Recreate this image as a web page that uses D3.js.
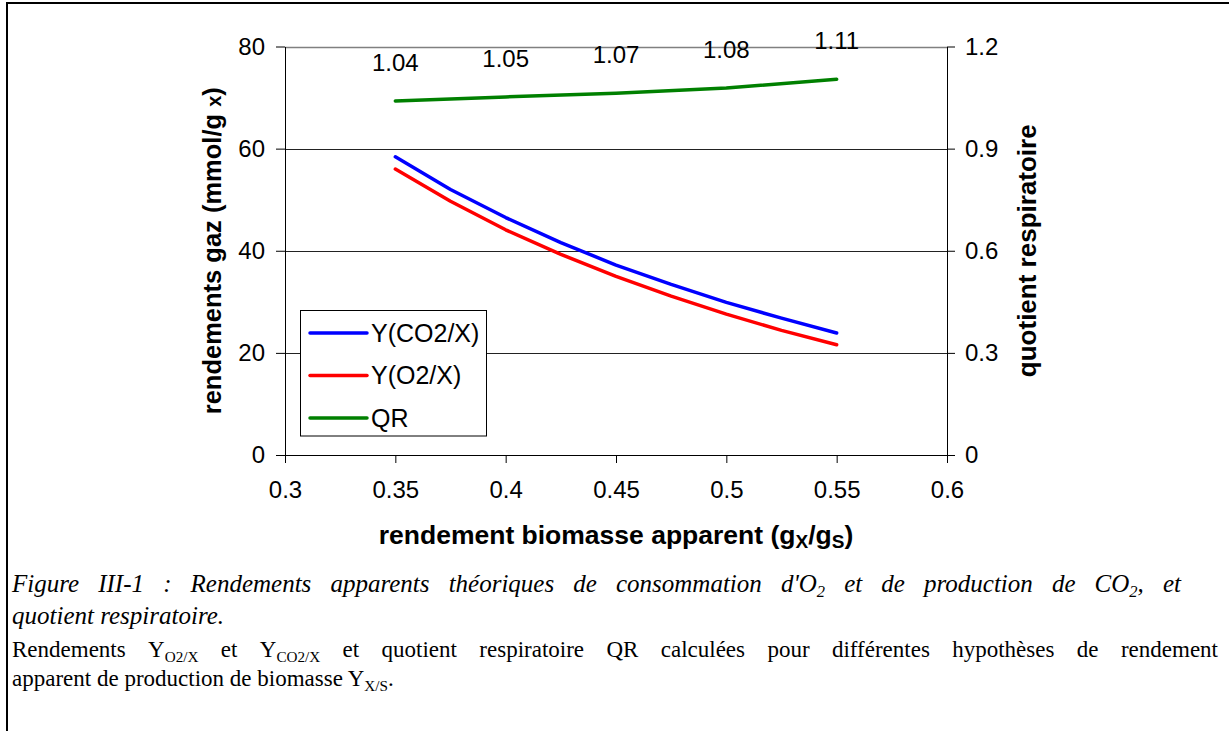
<!DOCTYPE html>
<html>
<head>
<meta charset="utf-8">
<script src="https://cdn.jsdelivr.net/npm/d3@7"></script>
<style>
  body { margin: 0; background: #fff; }
  svg { display: block; }
</style>
</head>
<body>
<script>
// values
const yieldX = [0.35, 0.375, 0.4, 0.425, 0.45, 0.475, 0.5, 0.525, 0.55];
const yCO2 = [58.4, 52.0, 46.5, 41.6, 37.2, 33.4, 29.9, 26.8, 23.9];
const yO2 = [56.0, 49.7, 44.1, 39.3, 35.0, 31.1, 27.6, 24.4, 21.6];
const qrX = [0.35, 0.4, 0.45, 0.5, 0.55];
const qrVals = [1.04, 1.052, 1.063, 1.078, 1.104];
const qrLabels = ['1.04', '1.05', '1.07', '1.08', '1.11'];
const xTicks = [0.3, 0.35, 0.4, 0.45, 0.5, 0.55, 0.6];
const leftTicks = [0, 20, 40, 60, 80];
const rightTicks = [0, 0.3, 0.6, 0.9, 1.2];
const seriesNames = ['Y(CO2/X)', 'Y(O2/X)', 'QR'];
const seriesColors = ['#0000ff', '#ff0000', '#008000'];

const W = 1229, H = 731;
const sans = 'Liberation Sans, Arial, sans-serif',
  serif = 'Liberation Serif, Times New Roman, serif',
  tickFont = 24,
  legFont = 25,
  titleFont = 26,
  capFont = 23,
  capItalicFont = 25;

const svg = d3.select('body').append('svg').attr('width', W).attr('height', H);

// outer frame (top + left only)
svg.append('line').attr('x1', 6).attr('x2', W).attr('y1', 3).attr('y2', 3)
  .attr('stroke', '#000').attr('stroke-width', 2);
svg.append('line').attr('x1', 7).attr('x2', 7).attr('y1', 2).attr('y2', H)
  .attr('stroke', '#000').attr('stroke-width', 2);

const x = d3.scaleLinear().domain([0.3, 0.6]).range([285, 947]),
  yL = d3.scaleLinear().domain([0, 80]).range([455, 46.5]),
  yR = d3.scaleLinear().domain([0, 1.2]).range([455, 46.5]);

// grid
svg.append('g').selectAll('line').data([20, 40, 60]).join('line')
  .attr('x1', x(0.3)).attr('x2', x(0.6))
  .attr('y1', d => Math.round(yL(d)) + 0.5).attr('y2', d => Math.round(yL(d)) + 0.5)
  .attr('stroke', '#222').attr('stroke-width', 1);
svg.append('line')
  .attr('x1', x(0.3)).attr('x2', x(0.6))
  .attr('y1', Math.round(yL(80)) + 0.5).attr('y2', Math.round(yL(80)) + 0.5)
  .attr('stroke', '#808080').attr('stroke-width', 1.5);

const styleAxis = g => {
  g.select('.domain').attr('stroke', '#000');
  g.selectAll('.tick line').attr('stroke', '#000');
  g.selectAll('.tick text').attr('fill', '#000')
    .style('font-family', sans).style('font-size', tickFont + 'px');
};

svg.append('g').attr('transform', 'translate(0,455)')
  .call(d3.axisBottom(x).tickValues(xTicks).tickSize(8).tickSizeOuter(0)
    .tickPadding(18).tickFormat(d => String(+d.toFixed(2))))
  .call(styleAxis);

svg.append('g').attr('transform', 'translate(285,0)')
  .call(d3.axisLeft(yL).tickValues(leftTicks).tickSize(9).tickSizeOuter(0)
    .tickPadding(11))
  .call(styleAxis);

svg.append('g').attr('transform', 'translate(947,0)')
  .call(d3.axisRight(yR).tickValues(rightTicks).tickSize(8).tickSizeOuter(0)
    .tickPadding(10).tickFormat(d => String(+d.toFixed(1))))
  .call(styleAxis);

// series
const lineL = d3.line().x(d => x(d[0])).y(d => yL(d[1]));
const lineR = d3.line().x(d => x(d[0])).y(d => yR(d[1]));

const drawPath = (pts, gen, color) =>
  svg.append('path').datum(pts).attr('d', gen)
    .attr('fill', 'none').attr('stroke', color).attr('stroke-width', 3.5)
    .attr('stroke-linecap', 'round').attr('stroke-linejoin', 'round');

drawPath(d3.zip(yieldX, yCO2), lineL, seriesColors[0]);
drawPath(d3.zip(yieldX, yO2), lineL, seriesColors[1]);
drawPath(d3.zip(qrX, qrVals), lineR, seriesColors[2]);

// QR data labels
svg.append('g').selectAll('text').data(d3.zip(qrX, qrVals, qrLabels)).join('text')
  .attr('x', d => x(d[0]))
  .attr('y', d => yR(d[1]) - 30)
  .attr('text-anchor', 'middle')
  .style('font-family', sans).style('font-size', tickFont + 'px')
  .text(d => d[2]);

// axis titles
const leftTitle = svg.append('text')
  .attr('transform', `translate(221,${(yL(0) + yL(80)) / 2}) rotate(-90)`)
  .attr('text-anchor', 'middle')
  .style('font-family', sans).style('font-size', '25.5px').style('font-weight', 'bold');
leftTitle.append('tspan').text('rendements gaz (mmol/g ');
leftTitle.append('tspan').style('font-size', '20px').text('x');
leftTitle.append('tspan').text(')');

svg.append('text')
  .attr('transform', `translate(1036,${(yR(0) + yR(1.2)) / 2}) rotate(-90)`)
  .attr('text-anchor', 'middle')
  .style('font-family', sans).style('font-size', titleFont + 'px').style('font-weight', 'bold')
  .text('quotient respiratoire');

const xTitle = svg.append('text')
  .attr('x', (x(0.3) + x(0.6)) / 2).attr('y', 544)
  .attr('text-anchor', 'middle')
  .style('font-family', sans).style('font-size', '26.5px').style('font-weight', 'bold');
xTitle.append('tspan').text('rendement biomasse apparent (g');
xTitle.append('tspan').attr('dy', 4).style('font-size', '19px').text('X');
xTitle.append('tspan').attr('dy', -4).text('/g');
xTitle.append('tspan').attr('dy', 4).style('font-size', '19px').text('S');
xTitle.append('tspan').attr('dy', -4).text(')');

// legend
const leg = svg.append('g');
leg.append('rect').attr('x', 300.5).attr('y', 310.5).attr('width', 186).attr('height', 125.5)
  .attr('fill', '#fff').attr('stroke', '#000').attr('stroke-width', 1);
const legY = d3.scalePoint().domain(seriesNames).range([333, 418]);
const items = leg.selectAll('g').data(seriesNames).join('g')
  .attr('transform', d => `translate(0,${legY(d)})`);
items.append('line').attr('x1', 310).attr('x2', 367).attr('y1', 0).attr('y2', 0)
  .attr('stroke', (d, i) => seriesColors[i]).attr('stroke-width', 3.5)
  .attr('stroke-linecap', 'round');
items.append('text').attr('x', 371).attr('y', 0).attr('dy', '0.35em')
  .style('font-family', sans).style('font-size', legFont + 'px')
  .text(d => d);

// caption
const capLeft = 12;

// runs: [text, isSubscript]
const capText = (y, runs, italic) => {
  const size = italic ? capItalicFont : capFont,
    shift = Math.round(size * 0.2);
  const t = svg.append('text').attr('x', capLeft).attr('y', y)
    .style('font-family', serif).style('font-size', size + 'px')
    .style('font-style', italic ? 'italic' : 'normal');
  let inSub = false;
  runs.forEach(r => {
    const s = t.append('tspan').text(r[0]);
    const sub = !!r[1];
    if (sub) s.style('font-size', (size * 0.66) + 'px');
    s.attr('dy', sub === inSub ? 0 : (sub ? shift : -shift));
    inSub = sub;
  });
  return t;
};

// spread words across the line, like a justified paragraph
const justify = (y, groups, italic, right) => {
  const words = groups.map(g => capText(y, g, italic));
  const widths = words.map(w => w.node().getComputedTextLength());
  const gap = (right - capLeft - d3.sum(widths)) / (words.length - 1);
  let cx = capLeft;
  words.forEach((w, i) => { w.attr('x', cx); cx += widths[i] + gap; });
};

justify(592, [
  [['Figure']], [['III-1']], [[':']], [['Rendements']], [['apparents']], [['théoriques']],
  [['de']], [['consommation']], [["d'O"], ['2', 1]], [['et']], [['de']], [['production']],
  [['de']], [['CO'], ['2', 1], [',']], [['et']]
], true, 1181);
capText(624, [['quotient respiratoire.']], true);

justify(657, [
  [['Rendements']], [['Y'], ['O2/X', 1]], [['et']], [['Y'], ['CO2/X', 1]], [['et']],
  [['quotient']], [['respiratoire']], [['QR']], [['calculées']], [['pour']],
  [['différentes']], [['hypothèses']], [['de']], [['rendement']]
], false, 1218);

capText(686, [['apparent de production de biomasse Y'], ['X/S', 1], ['.']], false);
</script>
</body>
</html>
